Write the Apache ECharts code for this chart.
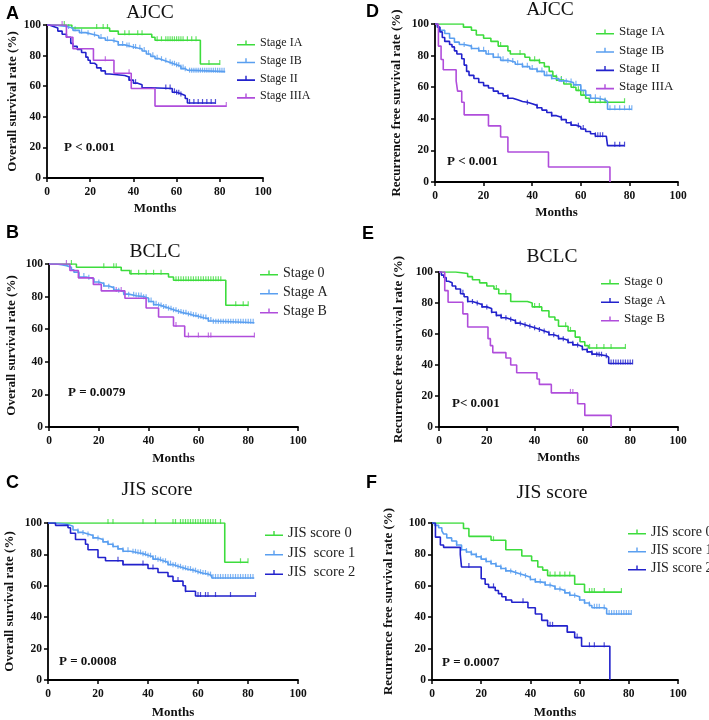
<!DOCTYPE html>
<html>
<head>
<meta charset="utf-8">
<script src="https://cdn.jsdelivr.net/npm/echarts@6/dist/echarts.min.js"></script>
<style>
  html, body { margin: 0; padding: 0; background: #fff; }
  #chart { width: 709px; height: 720px; }
</style>
</head>
<body>
<div id="chart"></div>
<script>
// axis ticks
const xTicks = [0, 20, 40, 60, 80, 100]
const yTicks = [0, 20, 40, 60, 80, 100]

// A - overall survival, AJCC
const osAjccIA = [[0,100],[11.5,98],[29,96],[33,94],[48.5,92],[50,90],[71,74.5],[80,74.5]]
const osAjccIB = [[0,100],[3,99.5],[6,99],[9,98],[12,96.5],[15,95],[18,94],[21,93],[24,91.5],[27,90],[30,89],[33,87],[36,86],[39,85],[42,84.5],[44,83],[46,81],[48,79.5],[50,78],[52,77],[54,76],[56,75],[58,74],[60,73],[62,71.5],[64,70.5],[65,69.5],[82.5,69.5]]
const osAjccII = [[0,100],[1,99],[3,98],[5,96],[7,94],[9,92],[11,88],[12,86],[14,84],[16,82],[18,79],[19,77],[20,75],[22,74],[23,72],[25,70],[27,68],[29,67],[36,66],[38,64],[40,62],[42,61],[44,59],[48,58.5],[58,56],[60,55],[62,54],[64,52],[65,49],[78,49]]
const osAjccIIIA = [[0,100],[9,92],[12,84.5],[21.5,77],[31,68.5],[39,58.5],[50,47],[83,47]]
const osAjccIACens = [8,23,26,28,36,38,42,44,51,53,55,56,57,58,59,60,61,62,63,65,67,69,75,80]
const osAjccIBCens = [10,13,16,19,22,25,28,31,33,35,37,38,40,41,43,45,47,49,51,53,55,57,58,59,60,61,62,63,64,66,67,68,69,70,71,72,73,74,75,76,77,78,79,80,81,82]
const osAjccIICens = [38,41,55,57,59,60,61,62,66,68,70,72,74,76,78]
const osAjccIIIACens = [7,27,38,83]

// D - recurrence free survival, AJCC
const rfsAjccIA = [[0,100],[11.7,98],[15,96],[17,93],[20,91],[23,89],[26,86],[30,83],[31,81],[37,79],[39,77],[43,75.5],[45,73],[47,70],[48.5,67],[50,64.5],[53,62],[56,60],[58,58],[60,55],[62,53],[63.5,50.5],[78,50.5]]
const rfsAjccIB = [[0,100],[1,98],[2,96],[4,94],[6,91],[8,88.5],[10,87],[12,86],[15,84.5],[18,83],[21,81],[24,79],[27,77],[30,76],[33,74.5],[36,73],[39,71.5],[42,70],[45,67.5],[48,65.5],[51,64],[54,63],[57,61.5],[60,58],[62,55],[64,53],[67,52],[70,51],[71,46],[81,46]]
const rfsAjccII = [[0,100],[1,98],[2,95],[3,91.5],[4,89],[6,87],[7,85.5],[8,83],[9,81],[11,78],[12,74],[13,70],[14,67.5],[16,65.5],[18,63],[20,61],[22,59.5],[24,57.5],[26,56],[28,54.5],[30,53],[32,52],[34,51],[36,50.5],[38,49.5],[40,48.5],[42,47],[44,45.5],[46,44],[48,42],[50,41],[52,39.5],[54,37.5],[56,36],[58,35],[60,33.5],[62,32],[64,30.5],[66,29],[70.5,28.5],[71,23],[78,23]]
const rfsAjccIIIA = [[0,100],[1.4,86],[2.5,77.5],[3.4,71],[8.7,64],[9.3,57.5],[11,50.5],[12,42.5],[22,35.5],[27,28.5],[30,19],[46.7,9.5],[72,0]]
const rfsAjccIACens = [27,35,41,43,50,52,57,59,61,66,68,70,78]
const rfsAjccIBCens = [12,15,18,20,22,24,26,28,30,32,34,36,38,40,42,44,46,48,50,52,54,56,58,60,62,64,66,68,70,72,74,76,78,80,81]
const rfsAjccIICens = [30,38,42,48,52,56,59,61,66,67,68,69,74,76,78]
const rfsAjccIIIACens = []

// B - overall survival, BCLC
const osBclc0 = [[0,100],[11,98],[29,96],[32.5,94],[48,92],[50,90],[71,74.7],[80,74.7]]
const osBclcA = [[0,100],[3,99.5],[5,99],[7,98],[9,96.5],[10,95],[12,92],[15,91],[18,89],[20,88],[22,86.5],[24,85.5],[26,84],[28,83],[30,81.5],[32,80.5],[35,80],[38,79],[40,77],[42,75],[44,74],[46,73],[48,72],[50,71],[52,70],[54,69.5],[56,68.5],[58,68],[60,67],[62,66.5],[64,65],[66,64],[82.5,64]]
const osBclcB = [[0,100],[8.4,96],[11.8,91.5],[17.8,87.5],[21,83.5],[30.5,79],[39,73],[44,67.5],[50,62],[54.5,55.5],[82.5,55.5]]
const osBclc0Cens = [9,22,26,27,33,36,39,42,45,51,52,53,54,55,56,57,58,59,60,61,62,63,64,65,66,67,68,69,75,78,80]
const osBclcACens = [12,14,16,18,20,22,24,26,28,30,32,34,35,36,37,38,39,40,41,42,43,44,45,46,47,48,49,50,51,52,53,54,55,56,57,58,59,60,61,62,63,64,65,66,67,68,69,70,71,72,73,74,75,76,77,78,79,80,81,82]
const osBclcBCens = [7,27,29,51,56,60,64,65,82.5]

// E - recurrence free survival, BCLC
const rfsBclc0 = [[0,100],[7,99],[12,97],[14,95],[17,93],[20,91],[23,89],[25,86],[30,81],[37,80],[39,77.5],[43,75],[46,71],[48.5,69],[50,65],[54,62],[57,58],[59,55],[61,52.5],[62.5,51],[78,51]]
const rfsBclcA = [[0,100],[1,98],[2,96.5],[3,94],[4,93],[5.5,91],[7,89],[9,86],[10.5,84],[12,81],[14,80],[16,79],[18,77.5],[20,76.5],[22,74],[24,72],[26,70.5],[28,69.5],[30,68.5],[32,67],[34,66],[36,65],[38,64],[40,63],[42,62],[44,61],[46,59.5],[48,58.5],[50,57],[52,56],[54,54.5],[56,53],[58,52],[60,50],[62,48.5],[64,47],[66,46],[70,45],[71,41],[81,41]]
const rfsBclcB = [[0,100],[2.4,88],[3.8,80.5],[10,73],[12,64.5],[20.5,57],[21.5,52.5],[22.5,48],[28,44.5],[30,40],[32.5,35],[41,31],[42,27.5],[47,22],[58,15],[61,7.5],[72,0]]
const rfsBclc0Cens = [24,28,40,42,53,55,63,66,69,72,78]
const rfsBclcACens = [10,12,14,16,18,20,22,24,26,28,30,32,34,36,38,40,42,44,46,48,50,52,54,56,58,60,62,64,66,67,68,70,72,73,74,75,76,77,78,79,80,81]
const rfsBclcBCens = [55,56]

// C - overall survival, JIS score
const osJis0 = [[0,100],[70.7,75],[80,75]]
const osJis1 = [[0,100],[3,99.5],[6,99],[8,98],[10,95.5],[12,94],[14,93],[16,92],[18,90.5],[20,89.5],[22,88],[24,86.5],[26,85],[28,83.5],[30,82],[33,81],[36,80.5],[38,79.5],[40,78.5],[42,77],[44,76],[46,75],[48,73.5],[50,72.5],[52,71.5],[54,70.5],[56,70],[58,69],[60,68],[62,67.5],[64,66.5],[65.5,65],[82.5,65]]
const osJis2 = [[0,100],[3,98.5],[8,97],[9,93.5],[11,89.5],[15,86.5],[16,83],[20,78],[23,76],[30,73.5],[40,71],[44,68.5],[48,66],[50,63],[54,60],[55,56.5],[59,53.5],[83,53.5]]
const osJis0Cens = [24,26,38,43,50,51,53,54,55,56,57,58,59,60,61,62,63,64,65,66,67,69,77,80]
const osJis1Cens = [12,14,16,18,20,22,24,26,28,30,32,34,35,36,37,38,39,40,41,42,43,44,45,46,47,48,49,50,51,52,53,54,55,56,57,58,59,60,61,62,63,64,65,66,67,68,69,70,71,72,73,74,75,76,77,78,79,80,81,82]
const osJis2Cens = [28,30,38,42,52,55,60,61,63,64,67,73,83]

// F - recurrence free survival, JIS score
const rfsJis0 = [[0,100],[12.8,96.5],[15,91.5],[24,89],[30,83],[36.5,79],[40.5,76],[43,72],[45,70],[47,66.5],[58,61],[62,56],[77,56]]
const rfsJis1 = [[0,100],[1,98.5],[2.7,97],[4,95],[4.7,93],[6,90.5],[8,88.5],[10,86],[12,83],[14,81.5],[16,80],[18,78.5],[20,77],[22,75.5],[24,74],[26,72.5],[28,71],[30,69.5],[32,68.5],[34,67.5],[36,66.5],[38,65.5],[40,64],[42,62.5],[44,62],[46,60.5],[48,59.5],[50,58],[52,57],[54,55.5],[56,54],[58,53],[60,51],[62,49],[64,47.5],[65,46],[70,45.5],[71,42],[81,42]]
const rfsJis2 = [[0,100],[1.4,91],[3.4,86],[4.7,84.5],[11.5,80],[12,72],[20,64.5],[21.6,61],[23,59],[25.7,57],[27,55],[28.4,53],[30,51],[32.4,49.5],[39,46],[42,42],[44.6,38],[47,34.5],[55,30.5],[58,27],[60.8,21.5],[72.3,0]]
const rfsJis0Cens = [25,48,50,52,54,56,64,65,66,70,77]
const rfsJis1Cens = [10,12,14,16,18,20,22,24,26,28,30,32,34,36,38,40,42,44,46,48,50,52,54,56,58,60,62,64,66,67,68,70,72,73,74,75,76,77,78,79,80,81]
const rfsJis2Cens = [15,25,30,37,48,49,55,59,64,66,70]

const GREEN = '#3ddc3d'
const LBLUE = '#5a9ff0'
const DBLUE = '#2222cc'
const PURPLE = '#b04ddb'

const SERIF = '"Liberation Serif", "Times New Roman", serif'
const SANS = '"Liberation Sans", Arial, sans-serif'

const panels = [
    {
        letter: 'A', title: 'AJCC', p: 'P < 0.001', yName: 'Overall survival rate (%)',
        grid: {left: 47, top: 25, width: 216, height: 153}, yGap: 28, xGap: 24,
        letterPos: [6, 5], titlePos: [150, 13], pPos: [64, 148],
        legend: {left: 237, top: 36, itemGap: 3.7, fontSize: 12},
        curves: [
            {name: 'Stage IA', color: GREEN, data: osAjccIA, cens: osAjccIACens},
            {name: 'Stage IB', color: LBLUE, data: osAjccIB, cens: osAjccIBCens},
            {name: 'Stage II', color: DBLUE, data: osAjccII, cens: osAjccIICens},
            {name: 'Stage IIIA', color: PURPLE, data: osAjccIIIA, cens: osAjccIIIACens}
        ]
    },
    {
        letter: 'D', title: 'AJCC', p: 'P < 0.001', yName: 'Recurrence free survival rate (%)',
        grid: {left: 435, top: 24, width: 243, height: 158}, yGap: 32, xGap: 24,
        letterPos: [366, 3], titlePos: [550, 10], pPos: [447, 162],
        legend: {left: 596, top: 25, itemGap: 4.3, fontSize: 13},
        curves: [
            {name: 'Stage IA', color: GREEN, data: rfsAjccIA, cens: rfsAjccIACens},
            {name: 'Stage IB', color: LBLUE, data: rfsAjccIB, cens: rfsAjccIBCens},
            {name: 'Stage II', color: DBLUE, data: rfsAjccII, cens: rfsAjccIICens},
            {name: 'Stage IIIA', color: PURPLE, data: rfsAjccIIIA, cens: rfsAjccIIIACens}
        ]
    },
    {
        letter: 'B', title: 'BCLC', p: 'P = 0.0079', yName: 'Overall survival rate (%)',
        grid: {left: 49, top: 264, width: 249, height: 163}, yGap: 31, xGap: 25,
        letterPos: [6, 224], titlePos: [155, 252], pPos: [68, 393],
        legend: {left: 260, top: 266, itemGap: 5, fontSize: 14},
        curves: [
            {name: 'Stage 0', color: GREEN, data: osBclc0, cens: osBclc0Cens},
            {name: 'Stage A', color: LBLUE, data: osBclcA, cens: osBclcACens},
            {name: 'Stage B', color: PURPLE, data: osBclcB, cens: osBclcBCens}
        ]
    },
    {
        letter: 'E', title: 'BCLC', p: 'P< 0.001', yName: 'Recurrence free survival rate (%)',
        grid: {left: 439, top: 272, width: 239, height: 155}, yGap: 34, xGap: 24,
        letterPos: [362, 225], titlePos: [552, 257], pPos: [452, 404],
        legend: {left: 601, top: 275, itemGap: 4.5, fontSize: 13},
        curves: [
            {name: 'Stage 0', color: GREEN, data: rfsBclc0, cens: rfsBclc0Cens},
            {name: 'Stage A', color: DBLUE, data: rfsBclcA, cens: rfsBclcACens},
            {name: 'Stage B', color: PURPLE, data: rfsBclcB, cens: rfsBclcBCens}
        ]
    },
    {
        letter: 'C', title: 'JIS score', p: 'P = 0.0008', yName: 'Overall survival rate (%)',
        grid: {left: 48, top: 523, width: 250, height: 160}, yGap: 32, xGap: 26,
        letterPos: [6, 474], titlePos: [157, 490], pPos: [59, 662],
        legend: {left: 265, top: 526, itemGap: 4.5, fontSize: 14.5},
        curves: [
            {name: 'JIS score 0', color: GREEN, data: osJis0, cens: osJis0Cens},
            {name: 'JIS  score 1', color: LBLUE, data: osJis1, cens: osJis1Cens},
            {name: 'JIS  score 2', color: DBLUE, data: osJis2, cens: osJis2Cens}
        ]
    },
    {
        letter: 'F', title: 'JIS score', p: 'P = 0.0007', yName: 'Recurrence free survival rate (%)',
        grid: {left: 432, top: 523, width: 246, height: 160}, yGap: 37, xGap: 26,
        letterPos: [366, 474], titlePos: [552, 493], pPos: [442, 663],
        legend: {left: 628, top: 525, itemGap: 4, fontSize: 14},
        curves: [
            {name: 'JIS score 0', color: GREEN, data: rfsJis0, cens: rfsJis0Cens},
            {name: 'JIS score 1', color: LBLUE, data: rfsJis1, cens: rfsJis1Cens},
            {name: 'JIS score 2', color: DBLUE, data: rfsJis2, cens: rfsJis2Cens}
        ]
    }
]

// survival value of a step curve at time t
function survAt(curve, t) {
    let v = curve[0][1]
    for (const pt of curve) {
        if (pt[0] <= t) v = pt[1]
    }
    return v
}

const LEGEND_ICON = 'path://M0,4H18V5.6H0Z M8.3,0.5H9.7V5.6H8.3Z'

let grids = [], xAxes = [], yAxes = [], legends = [], series = [], texts = []

panels.forEach((p, i) => {
    grids.push(p.grid)
    xAxes.push({
        type: 'value', gridIndex: i, min: xTicks[0], max: xTicks[xTicks.length - 1], interval: 20,
        name: 'Months', nameLocation: 'middle', nameGap: p.xGap,
        nameTextStyle: {fontFamily: SERIF, fontWeight: 'bold', fontSize: 13, color: '#111'},
        axisLine: {lineStyle: {color: '#000', width: 1.8}},
        axisTick: {show: true, length: 4, lineStyle: {color: '#000', width: 1.5}},
        axisLabel: {fontFamily: SERIF, fontWeight: 'bold', fontSize: 11.5, color: '#111', margin: 8},
        splitLine: {show: false}
    })
    yAxes.push({
        type: 'value', gridIndex: i, min: yTicks[0], max: yTicks[yTicks.length - 1], interval: 20,
        name: p.yName, nameLocation: 'middle', nameGap: p.yGap, nameRotate: 90,
        nameTextStyle: {fontFamily: SERIF, fontWeight: 'bold', fontSize: 13, color: '#111'},
        axisLine: {show: true, lineStyle: {color: '#000', width: 1.8}},
        axisTick: {show: true, length: 4, lineStyle: {color: '#000', width: 1.5}},
        axisLabel: {fontFamily: SERIF, fontWeight: 'bold', fontSize: 11.5, color: '#111', margin: 6},
        splitLine: {show: false}
    })
    legends.push({
        orient: 'vertical', left: p.legend.left, top: p.legend.top, itemGap: p.legend.itemGap,
        padding: 0, itemWidth: 18, itemHeight: 6, selectedMode: false,
        textStyle: {fontFamily: SERIF, fontSize: p.legend.fontSize, color: '#222', lineHeight: 14},
        data: p.curves.map(c => ({name: c.name, icon: LEGEND_ICON, itemStyle: {color: c.color}}))
    })
    p.curves.forEach(c => {
        series.push({
            type: 'line', name: c.name, xAxisIndex: i, yAxisIndex: i,
            step: 'end', data: c.data, showSymbol: false, animation: false,
            lineStyle: {color: c.color, width: 1.6}, itemStyle: {color: c.color}
        })
        series.push({
            type: 'scatter', name: c.name, xAxisIndex: i, yAxisIndex: i,
            data: c.cens.map(t => [t, survAt(c.data, t)]),
            symbol: 'rect', symbolSize: [1.2, 5], symbolOffset: [0, -1.5],
            itemStyle: {color: c.color}, animation: false, silent: true
        })
    })
    texts.push({
        type: 'text', x: p.letterPos[0], y: p.letterPos[1],
        style: {text: p.letter, font: 'bold 18px ' + SANS, fill: '#000'}
    })
    texts.push({
        type: 'text', x: p.titlePos[0], y: p.titlePos[1],
        style: {text: p.title, font: '19.5px ' + SERIF, fill: '#111', textAlign: 'center', textVerticalAlign: 'middle'}
    })
    texts.push({
        type: 'text', x: p.pPos[0], y: p.pPos[1],
        style: {text: p.p, font: 'bold 13px ' + SERIF, fill: '#111', textVerticalAlign: 'middle'}
    })
})

let chart = echarts.init(document.getElementById('chart'), null, {renderer: 'canvas'})
chart.setOption({
    backgroundColor: '#fff',
    animation: false,
    grid: grids,
    xAxis: xAxes,
    yAxis: yAxes,
    legend: legends,
    series: series,
    graphic: texts
})
</script>
</body>
</html>
